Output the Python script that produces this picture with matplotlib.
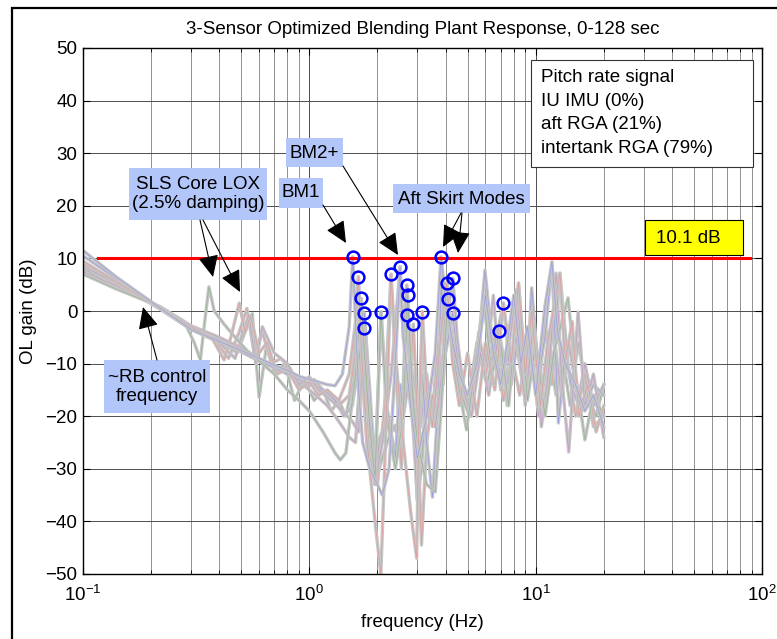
"""3-sensor blending plant response, open-loop gain vs frequency."""

import matplotlib.pyplot as plt
from matplotlib.patches import Rectangle, FancyArrowPatch
from matplotlib.ticker import LogLocator, NullFormatter

plt.rcParams['font.family'] = ['Liberation Sans', 'DejaVu Sans']
plt.rcParams['mathtext.fontset'] = 'custom'
plt.rcParams['mathtext.rm'] = 'Liberation Sans'
plt.rcParams['mathtext.it'] = 'Liberation Sans:italic'
plt.rcParams['mathtext.bf'] = 'Liberation Sans:bold'

W, H = 777, 639
FS = 13.5

# ---- data ----
title = '3-Sensor Optimized Blending Plant Response, 0-128 sec'
legend_lines = ['Pitch rate signal', 'IU IMU (0%)', 'aft RGA (21%)', 'intertank RGA (79%)']

f_blue1 = [0.1, 0.14, 0.22, 0.3, 0.4, 0.5, 0.6, 0.7, 0.8, 0.9, 1.0, 1.1, 1.2, 1.3, 1.4, 1.5,
           1.555, 1.6, 1.65, 1.72, 1.85, 2.0, 2.1, 2.25, 2.4, 2.517, 2.6, 2.8, 3.0, 3.3, 3.6,
           3.819, 4.0, 4.3, 4.6, 5.0, 5.5, 6.0, 6.5, 7.0, 7.5, 8.0, 8.6, 9.2, 10, 11, 11.8,
           12.5, 13.5, 15, 16.5, 18, 20]
db_blue1 = [11.5, 6.5, 0.5, -3.5, -5.8, -7.5, -9, -10.3, -11.3, -12.4, -13, -13.5, -14, -14.2,
            -12, -3, 10.3, -2, -15, -25, -30, -33, -35, -30, -10, 8.4, -5, -18, -28, -20, -8,
            10.3, 2, -6, -12, -16, -10, 3, -8, -14, -6, 3, -10, -3, -16, 1, 9.3, -4, -10, -14,
            -19, -16, -22]

f_red1 = [0.1, 0.14, 0.22, 0.3, 0.37, 0.42, 0.45, 0.49, 0.52, 0.55, 0.6, 0.65, 0.72, 0.8, 0.9,
          1.0, 1.1, 1.2, 1.35, 1.5, 1.6, 1.647, 1.7, 1.8, 1.95, 2.07, 2.15, 2.296, 2.4, 2.6, 2.8,
          2.98, 3.05, 3.157, 3.3, 3.5, 3.8, 4.048, 4.3, 4.6, 5.0, 5.5, 6.0, 6.6, 7.2, 7.8, 8.4,
          9.0, 9.6, 10.5, 11.3, 12.8, 13.5, 14.5, 15.5, 17, 18.5, 20]
db_red1 = [9.5, 5.5, 0.6, -3, -5, -9.3, -5, 1.5, -4, -1, -8, -6, -12, -11, -15, -13.5, -16, -15,
           -17, -12, -2, 6.5, -8, -25, -40, -50, -30, 7.0, -8, -25, -38, -47, -20, -0.1, -15,
           -22, -5, 5.3, -10, -18, -8, -20, -6, -15, 1.5, -10, 5.3, -12, 0, -18, -6, 7.2, -10,
           -2, -20, -14, -23, -18]

f_green1 = [0.1, 0.14, 0.22, 0.28, 0.31, 0.33, 0.345, 0.36, 0.38, 0.42, 0.47, 0.53, 0.6, 0.7,
            0.8, 0.9, 1.0, 1.15, 1.3, 1.37, 1.45, 1.6, 1.692, 1.75, 1.85, 1.95, 2.074, 2.2, 2.4,
            2.6, 2.72, 2.85, 3.0, 3.3, 3.6, 3.8, 4.089, 4.3, 4.6, 4.95, 5.4, 5.9, 6.4, 7.0, 7.6,
            8.4, 9.2, 10, 11, 12, 13.9, 15, 16.5, 18, 20]
db_green1 = [7.0, 4.2, 0.8, -2, -6, -9.3, -2, 4.6, 0, -2.5, -5, -7.5, -9.5, -12, -15, -17, -19,
             -23, -27, -28.3, -27, -12, 2.4, -8, -22, -32, -0.1, -20, -30, -20, 3.0, -15, -25,
             -33, -34.4, -20, 2.3, -8, -15, -22.6, -10, 2, -12, -6, -18, 5.3, -17, -6, -20, -8,
             2.5, -12, -24.5, -16, -20]

f_mag1 = [0.1, 0.14, 0.22, 0.3, 0.4, 0.47, 0.5, 0.54, 0.58, 0.62, 0.7, 0.8, 0.9, 1.0, 1.1, 1.25,
          1.4, 1.55, 1.65, 1.75, 1.85, 1.95, 2.1, 2.3, 2.517, 2.6, 2.695, 2.8, 2.9, 3.0, 3.157,
          3.35, 3.6, 3.85, 4.048, 4.302, 4.5, 4.8, 5.2, 5.7, 6.2, 6.91, 7.5, 8.2, 9, 9.8, 10.6,
          11.5, 12.3, 13, 14, 15.4, 16.5, 18, 20]
db_mag1 = [8.5, 5.3, 0.3, -3.5, -6, -9, -5, -0.8, -10, -3, -8, -10, -14, -12.5, -15, -17, -19,
           -21, -23, -3.2, -20, -33, -25, -12, 8.4, -5, 4.9, -15, -25, -36, -5, -20, -22, -12,
           5.3, 6.2, -5, -15, -20, -8, -16, -3.8, -14, -5, -17, -2, -22, -10, 7.2, -12, -26.8,
           -0.2, -18, -12, -24]

f_blue2 = [0.1, 0.14, 0.22, 0.3, 0.4, 0.5, 0.6, 0.7, 0.8, 0.9, 1.0, 1.1, 1.2, 1.3, 1.42, 1.55,
           1.65, 1.75, 1.85, 1.95, 2.074, 2.2, 2.4, 2.517, 2.6, 2.72, 2.85, 3.0, 3.157, 3.3, 3.5,
           3.7, 3.819, 4.0, 4.302, 4.6, 5.0, 5.5, 5.97, 6.5, 7.2, 7.8, 8.4, 9.0, 9.6, 10.3, 11.0,
           11.8, 12.6, 13.5, 14.5, 16, 18, 20]
db_blue2 = [10.5, 6.2, 0.5, -3.2, -5.5, -7.8, -9.5, -10.8, -12, -13, -14, -14.5, -15.5, -17, -20,
            -18, -10, -0.4, -15, -30, -0.1, -18, -28, -14, -20, -0.8, -20, -30, -12, -25, -35.4,
            -18, 5, -8, -0.4, -12, -18, -10, 7.8, -8, 1.5, -14, -4, -18, 4.4, -12, -5, 9.3,
            -21.3, -8, -15, -19, -14, -16]

f_red2 = [0.1, 0.14, 0.22, 0.3, 0.38, 0.44, 0.49, 0.53, 0.57, 0.62, 0.68, 0.75, 0.85, 0.95, 1.05,
          1.2, 1.35, 1.5, 1.6, 1.692, 1.75, 1.85, 2.0, 2.15, 2.296, 2.4, 2.55, 2.71, 2.8, 2.881,
          3.0, 3.13, 3.3, 3.5, 3.7, 3.9, 4.089, 4.3, 4.6, 5.0, 5.5, 6.0, 6.6, 7.2, 7.8, 8.5, 9.3,
          10.2, 11.0, 11.8, 12.8, 13.9, 15, 16.5, 18, 20]
db_red2 = [9.0, 5.8, 0.4, -3.2, -5.5, -9, -4, 0.5, -8, -4, -10, -9, -12, -14, -13, -16, -18, -16,
           -8, 2.4, -12, -28, -33, -18, 7.0, -10, -30, -0.8, -12, -2.5, -20, -44.5, -25, -16,
           -20, -10, 2.3, -6, -12, -18, -6, -12, -5, -17, -8, -16, -4, -18, -2, -14, 7.2, -10,
           -20, -12, -22, -20]

f_green2 = [0.1, 0.14, 0.22, 0.3, 0.4, 0.48, 0.52, 0.56, 0.6, 0.65, 0.7, 0.78, 0.86, 0.95, 1.05,
            1.15, 1.25, 1.35, 1.45, 1.55, 1.647, 1.7, 1.8, 1.95, 2.1, 2.25, 2.4, 2.55, 2.695, 2.8,
            2.9, 3.0, 3.13, 3.3, 3.5, 3.7, 3.85, 4.048, 4.2, 4.4, 4.7, 5.1, 5.6, 6.1, 6.8, 7.5,
            8.2, 9.0, 9.8, 10.6, 11.5, 12.3, 13.2, 14.2, 15.4, 17, 18.5, 20]
db_green2 = [8.0, 5.0, 0.6, -3.0, -5.5, -8, -4, -0.5, -16.4, -6, -12, -10, -17, -13, -17, -15,
             -19, -17, -20, -14, 6.5, -10, -26, -33, -28, -24, -21.7, -23.6, 4.9, -10, -20, -36,
             -30, -15, -20, -8, 0, 5.3, -4, -10, -16, -20, -8, -14, -3.8, -18, -6, -17, -3, -15,
             -7, -16, -9, -18, -6, -16, -20, -14]

f_mag2 = [0.1, 0.14, 0.22, 0.3, 0.4, 0.5, 0.6, 0.7, 0.8, 0.9, 1.0, 1.1, 1.2, 1.3, 1.4, 1.5, 1.6,
          1.75, 1.85, 1.95, 2.05, 2.2, 2.35, 2.5, 2.65, 2.8, 2.95, 3.1, 3.3, 3.5, 3.7, 3.9, 4.1,
          4.302, 4.5, 4.8, 5.2, 5.6, 6.0, 6.5, 7.0, 7.6, 8.2, 8.8, 9.5, 10.3, 11.2, 12.0, 13.0,
          14.0, 15.4, 16.5, 18, 20]
db_mag2 = [7.5, 4.8, 0.7, -2.8, -5, -7, -9, -10.5, -12, -13.5, -15, -16.5, -18, -20, -22, -24,
           -25, -0.4, -20, -32, -24, -21, -22, -24, -18, -10, -15, -22, -12, -20, -6, -14, 0,
           6.2, -8, -14, -20, -4, -12, 3, -15, -7, 4, -10, -6, -20, -10, -4, -16, -6, -17, -10,
           -18, -14]

curves = [
    (f_green2, db_green2, '#5f9f5f'),
    (f_mag2, db_mag2, '#c070c0'),
    (f_red2, db_red2, '#ff7070'),
    (f_blue2, db_blue2, '#7070ff'),
    (f_mag1, db_mag1, '#c070c0'),
    (f_green1, db_green1, '#5f9f5f'),
    (f_red1, db_red1, '#ff7070'),
    (f_blue1, db_blue1, '#7070ff'),
]

circle_f = [1.555, 1.647, 1.692, 1.75, 1.75, 2.074, 2.296, 2.517, 2.695, 2.72, 2.71, 2.881,
            3.157, 3.819, 4.048, 4.302, 4.089, 4.302, 7.20, 6.91]
circle_db = [10.3, 6.5, 2.4, -0.4, -3.2, -0.1, 7.0, 8.4, 4.9, 3.0, -0.8, -2.5,
             -0.1, 10.3, 5.3, 6.2, 2.3, -0.4, 1.5, -3.8]

limit_db = 10.1
limit_f = [0.116, 88.5]


def fx(x):
    return x / W


def fy(y):
    return 1 - y / H


def box(fig, x0, y0, x1, y1, face, edge='none', lw=0.8):
    fig.add_artist(Rectangle((fx(x0), fy(y1)), fx(x1 - x0), (y1 - y0) / H,
                             transform=fig.transFigure, facecolor=face,
                             edgecolor=edge, lw=lw))


def arrow(fig, xy_from, xy_to):
    fig.add_artist(FancyArrowPatch((fx(xy_from[0]), fy(xy_from[1])),
                                   (fx(xy_to[0]), fy(xy_to[1])),
                                   transform=fig.transFigure,
                                   arrowstyle='-|>,head_length=0.9,head_width=0.42',
                                   mutation_scale=15, color='black', lw=0.8,
                                   shrinkA=0, shrinkB=0))


fig = plt.figure(figsize=(W / 100, H / 100), dpi=100)
ax = fig.add_axes([fx(83), fy(574), fx(762 - 83), (574 - 48) / H])

for f, db, c in curves:
    ax.plot(f, db, color='#c6c6c6', lw=2.4, solid_joinstyle='round')
    ax.plot(f, db, color=c, lw=0.5, alpha=0.5)

ax.plot(limit_f, [limit_db, limit_db], color='red', lw=2.2, zorder=5)
ax.plot(circle_f, circle_db, 'o', mfc='none', mec='blue', mew=1.8, ms=8.5, zorder=6)

ax.set_xscale('log')
ax.set_xlim(0.1, 100)
ax.set_ylim(-50, 50)
ax.set_yticks(range(-50, 51, 10))
ax.xaxis.set_minor_locator(LogLocator(base=10, subs=range(2, 10)))
ax.xaxis.set_minor_formatter(NullFormatter())
ax.set_axisbelow(True)
ax.grid(True, which='major', color='0.3', lw=0.7)
ax.grid(True, which='minor', axis='x', color='0.5', lw=0.6)
ax.tick_params(which='both', direction='in', top=True, right=True, labelsize=FS)
ax.tick_params(which='major', length=5)
ax.tick_params(which='minor', length=3)
ax.tick_params(axis='x', which='major', pad=8)
ax.tick_params(axis='y', which='major', pad=4)
for s in ax.spines.values():
    s.set_linewidth(1.0)

ax.set_title(title, fontsize=FS, pad=10)
ax.set_xlabel('frequency (Hz)', fontsize=FS, labelpad=6)
ax.set_ylabel('OL gain (dB)', fontsize=FS, labelpad=6)

# outer frame of the exported figure
fig.add_artist(Rectangle((fx(12), -0.1), 1.2, fy(8) + 0.1, transform=fig.transFigure,
                         facecolor='none', edgecolor='black', lw=1.6))

# legend-like note
box(fig, 531, 60, 753, 167, 'white', edge='0.2')
for i, s in enumerate(legend_lines):
    fig.text(fx(541), fy(78 + i * 23.4), s, fontsize=FS, va='center', ha='left')

# threshold label
box(fig, 645, 220, 743, 255, '#ffff00', edge='black')
fig.text(fx(656), fy(238), '10.1 dB', fontsize=FS, va='center', ha='left')

# callouts
blue_box = '#b3c6fa'
box(fig, 129, 168, 267, 220, blue_box)
fig.text(fx(198), fy(194), 'SLS Core LOX\n(2.5% damping)', fontsize=FS, va='center',
         ha='center', linespacing=1.1)
box(fig, 286, 138, 343, 167, blue_box)
fig.text(fx(314.5), fy(153), 'BM2+', fontsize=FS, va='center', ha='center')
box(fig, 279, 178, 323, 208, blue_box)
fig.text(fx(301), fy(193), 'BM1', fontsize=FS, va='center', ha='center')
box(fig, 393, 184, 530, 213, blue_box)
fig.text(fx(461.5), fy(199), 'Aft Skirt Modes', fontsize=FS, va='center', ha='center')
box(fig, 104, 360, 210, 413, blue_box)
fig.text(fx(157), fy(387), '~RB control\nfrequency', fontsize=FS, va='center',
         ha='center', linespacing=1.1)

arrow(fig, (200, 220), (213, 277))
arrow(fig, (203, 220), (240, 292))
arrow(fig, (323, 205), (346, 243))
arrow(fig, (343, 166), (398, 255))
arrow(fig, (461, 213), (443, 247))
arrow(fig, (462, 213), (458, 253))
arrow(fig, (157, 360), (143, 307))

fig.savefig('out.png', dpi=100)
